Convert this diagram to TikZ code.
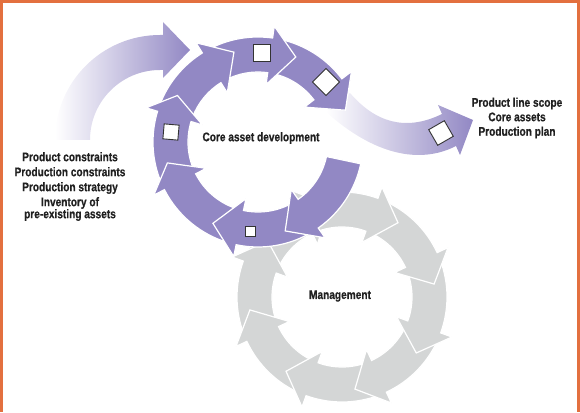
\documentclass[tikz,border=0pt]{standalone}
\usepackage{fontspec}
\setmainfont{Liberation Sans}[FakeStretch=0.81, BoldFeatures={FakeBold=0.6}]
\definecolor{lilas}{RGB}{146,136,196}
\definecolor{gris}{RGB}{212,214,214}
\definecolor{cadre}{RGB}{227,112,63}
\definecolor{texte}{RGB}{32,32,32}
% morceau d'anneau : style, queue, base de la pointe, pointe
\newcommand{\ringpart}[4]{%
  \filldraw[#1] (#2:105) arc[start angle=#2, end angle=#3, radius=105]
    -- (#3:117) -- (#4:93) -- (#3:58) -- (#3:70)
    arc[start angle=#3, end angle=#2, radius=70] -- cycle;}

\begin{document}
\begin{tikzpicture}[x=1pt, y=1pt,
  seg/.style={fill=lilas, draw=white, line width=1.2pt},
  seggris/.style={fill=gris, draw=white, line width=1.2pt},
  box/.style={draw=black!80, fill=white, line width=0.9pt, inner sep=0pt},
  lbl/.style={text=texte, font=\bfseries\fontsize{12.5}{12}\selectfont, align=center}]
\useasboundingbox (0,0) rectangle (580,412);
% Cadre
\fill[cadre] (0,408.5) rectangle (580,412);
\fill[cadre] (0,0) rectangle (3,412);
\fill[cadre] (577,0) rectangle (580,412);

% Anneau gris
\begin{scope}[shift={(342,115)}]
\ringpart{seggris}{156}{115}{98}
\ringpart{seggris}{201}{160}{143}
\ringpart{seggris}{246}{205}{188}
\ringpart{seggris}{291}{250}{233}
\ringpart{seggris}{336}{295}{278}
\ringpart{seggris}{21}{-20}{-37}
\ringpart{seggris}{66}{25}{8}
\ringpart{seggris}{111}{70}{53}
\end{scope}

% Fleches d'entree et de sortie
\shade[left color=white, right color=lilas] (55,272) arc[start angle=180, end angle=90, radius=105]
  -- (163,377) -- (163,390) -- (190,362) -- (163,334) -- (163,342) -- (160,342)
  arc[start angle=90, end angle=180, radius=70] -- cycle;
\shade[left color=white, right color=lilas] (350,319) .. controls (375,290) and (405,280) .. (442,298)
  -- (438,307) -- (473,292) -- (460,257) -- (456,266)
  .. controls (425,250) and (380,252) .. (326,300) -- cycle;

% Anneau violet
\begin{scope}[shift={(258,270)}]
\ringpart{seg}{78}{37}{20}
\ringpart{seg}{118}{82}{66}
\ringpart{seg}{159}{122}{105}
\ringpart{seg}{203}{163}{150}
\ringpart{seg}{254}{207}{193}
\ringpart{seg}{301}{258}{241}
\ringpart{seg}{348}{305}{287}
\end{scope}

\node[box, minimum size=17pt] (carre1) at (262,359) {};
\node[box, minimum size=19pt, rotate=45] (losange) at (326,330) {};
\node[box, minimum size=15pt, rotate=-5] (carre2) at (171,280) {};
\node[box, minimum size=10pt] (carre3) at (250,181) {};
\node[box, minimum size=18pt, rotate=30] (carre4) at (441,279) {};

\node[lbl] (coeur) at (261,274) {Core asset development};
\node[lbl] (gestion) at (340,116) {Management};
\node[lbl] (entrees) at (70,225.5) {Product constraints\\[3pt]Production constraints\\[3pt]Production strategy\\[3pt]Inventory of\\pre-existing assets};
\node[lbl] (sorties) at (517,294) {Product line scope\\[2.5pt]Core assets\\[2.5pt]Production plan};
\end{tikzpicture}
\end{document}
